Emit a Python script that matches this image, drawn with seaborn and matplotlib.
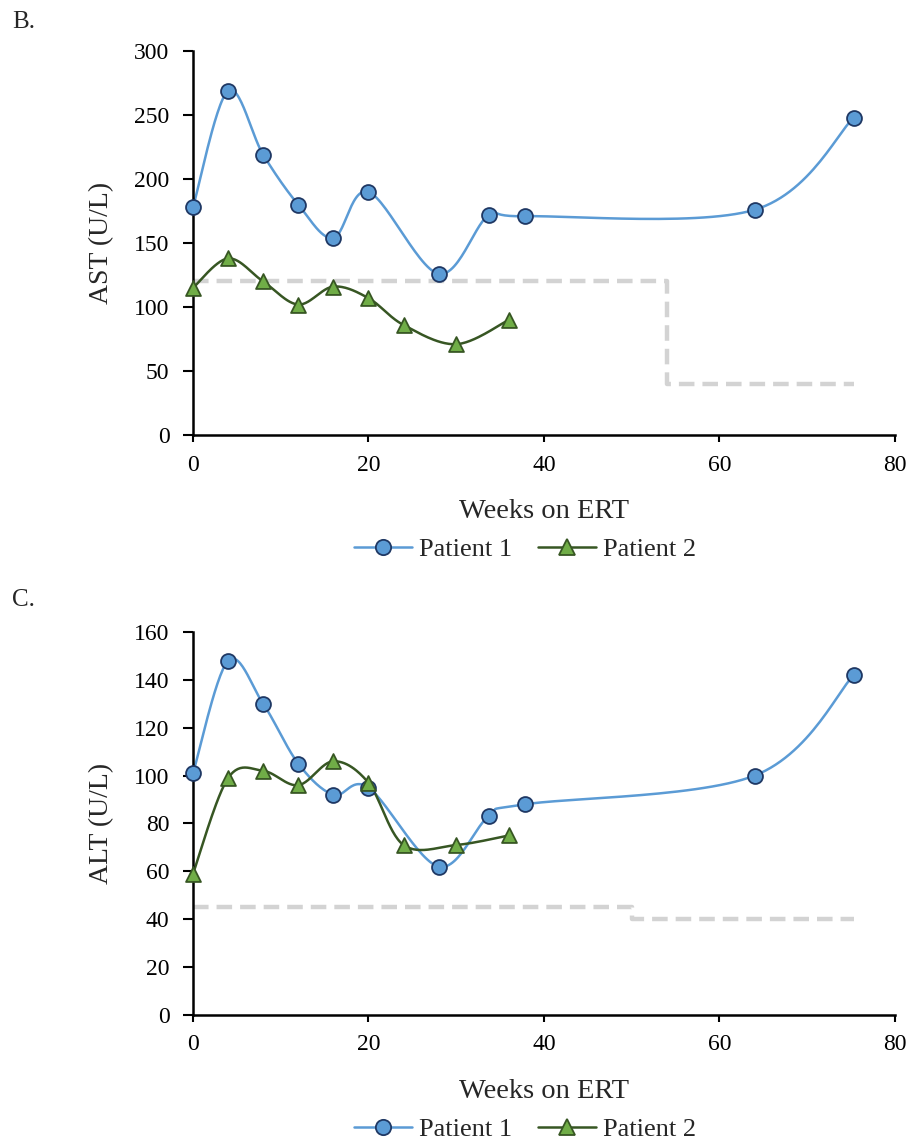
import matplotlib
matplotlib.use("Agg")
import matplotlib.pyplot as plt
import numpy as np
import pandas as pd
import seaborn as sns
from matplotlib.lines import Line2D

# AST data (panel B)
ast_p1_weeks = [0, 4, 8, 12, 16, 20, 28, 33.7, 37.8, 64, 75.3]
ast_p1_vals = [178, 269, 219, 180, 154, 190, 126, 172, 171, 176, 248]
ast_p2_weeks = [0, 4, 8, 12, 16, 20, 24, 30, 36]
ast_p2_vals = [115, 138, 120, 102, 116, 107, 86, 71, 90]
ast_ref_weeks = [0, 54, 75.3]
ast_ref_vals = [120, 40, 40]

# ALT data (panel C)
alt_p1_weeks = [0, 4, 8, 12, 16, 20, 28, 33.7, 37.8, 64, 75.3]
alt_p1_vals = [101, 148, 130, 105, 92, 95, 62, 83, 88, 100, 142]
alt_p2_weeks = [0, 4, 8, 12, 16, 20, 24, 30, 36]
alt_p2_vals = [59, 99, 102, 96, 106, 97, 71, 71, 75]
alt_ref_weeks = [0, 50, 75.3]
alt_ref_vals = [45, 40, 40]

P1_LINE = "#5B9BD5"
P1_EDGE = "#1F3864"
P2_LINE = "#375623"
P2_FACE = "#70AD47"
REF = "#D3D3D3"


def smooth(x, y, n=30):
    '''Excel-like smoothed line: cubic bezier through the points'''
    x = np.asarray(x, float)
    y = np.asarray(y, float)
    xs, ys = [x[0]], [y[0]]
    for i in range(len(x) - 1):
        i0 = max(i - 1, 0)
        i3 = min(i + 2, len(x) - 1)
        c1 = (x[i] + (x[i + 1] - x[i0]) / 6, y[i] + (y[i + 1] - y[i0]) / 6)
        c2 = (x[i + 1] - (x[i3] - x[i]) / 6, y[i + 1] - (y[i3] - y[i]) / 6)
        t = np.linspace(0, 1, n)[1:]
        a, b, c, d = (1 - t) ** 3, 3 * t * (1 - t) ** 2, 3 * t ** 2 * (1 - t), t ** 3
        xs.extend(a * x[i] + b * c1[0] + c * c2[0] + d * x[i + 1])
        ys.extend(a * y[i] + b * c1[1] + c * c2[1] + d * y[i + 1])
    return pd.DataFrame({"week": xs, "val": ys})


def draw_panel(ax, p1w, p1v, p2w, p2v, refw, refv, ymax, ystep, ylabel):
    # reference (upper limit) dashed step line
    ax.plot(refw, refv, drawstyle="steps-post", color=REF, lw=3.2,
            dashes=(3.5, 1.8), zorder=1)
    s1 = smooth(p1w, p1v)
    s2 = smooth(p2w, p2v)
    sns.lineplot(data=s1, x="week", y="val", sort=False, ax=ax,
                 color=P1_LINE, lw=1.8, zorder=2)
    sns.lineplot(data=s2, x="week", y="val", sort=False, ax=ax,
                 color=P2_LINE, lw=1.8, zorder=2)
    ax.scatter(p1w, p1v, s=115, marker="o", facecolor=P1_LINE,
               edgecolor=P1_EDGE, linewidth=1.3, zorder=4, clip_on=False)
    ax.scatter(p2w, p2v, s=115, marker="^", facecolor=P2_FACE,
               edgecolor=P2_LINE, linewidth=1.3, zorder=4, clip_on=False)

    ax.set_xlim(0, 80)
    ax.set_ylim(0, ymax)
    ax.set_xticks(np.arange(0, 81, 20))
    ax.set_yticks(np.arange(0, ymax + 1, ystep))
    ax.tick_params(axis="x", bottom=True, direction="out", length=5, width=1.5,
                   pad=9, labelsize=17, colors="black")
    ax.tick_params(axis="y", left=True, direction="out", length=7, width=1.5,
                   pad=10, labelsize=17, colors="black")
    ax.set_xlabel("Weeks on ERT", fontsize=20.5, labelpad=17)
    ax.set_ylabel(ylabel, fontsize=20, labelpad=14)
    ax.spines["top"].set_visible(False)
    ax.spines["right"].set_visible(False)
    for sp in ("left", "bottom"):
        ax.spines[sp].set_linewidth(1.8)
        ax.spines[sp].set_color("black")
    ax.spines["bottom"].set_zorder(3)


sns.set_theme(style="white")
plt.rcParams["font.family"] = ["Liberation Serif", "DejaVu Serif"]

fig = plt.figure(figsize=(9.16, 11.42), dpi=100)
ax1 = fig.add_axes([0.2107, 0.619, 0.7663, 0.3363])
ax2 = fig.add_axes([0.2107, 0.1112, 0.7663, 0.3354])

draw_panel(ax1, ast_p1_weeks, ast_p1_vals, ast_p2_weeks, ast_p2_vals,
           ast_ref_weeks, ast_ref_vals, 300, 50, "AST (U/L)")
draw_panel(ax2, alt_p1_weeks, alt_p1_vals, alt_p2_weeks, alt_p2_vals,
           alt_ref_weeks, alt_ref_vals, 160, 20, "ALT (U/L)")

handles = [
    Line2D([], [], color=P1_LINE, lw=1.8, marker="o", markersize=11,
           markerfacecolor=P1_LINE, markeredgecolor=P1_EDGE, markeredgewidth=1.3),
    Line2D([], [], color=P2_LINE, lw=1.8, marker="^", markersize=11,
           markerfacecolor=P2_FACE, markeredgecolor=P2_LINE, markeredgewidth=1.3),
]
for yc in (1 - 549 / 1142, 1 - 1129 / 1142):
    fig.legend(handles, ["Patient 1", "Patient 2"], loc="center",
               bbox_to_anchor=(525 / 916, yc), ncol=2, frameon=False,
               fontsize=19, handlelength=2.2, handletextpad=0.25,
               columnspacing=1.0)

fig.text(12 / 916, 1 - 22 / 1142, "B.", fontsize=18, va="center", ha="left")
fig.text(12 / 916, 1 - 600 / 1142, "C.", fontsize=18, va="center", ha="left")

fig.savefig("out.png", dpi=100)
